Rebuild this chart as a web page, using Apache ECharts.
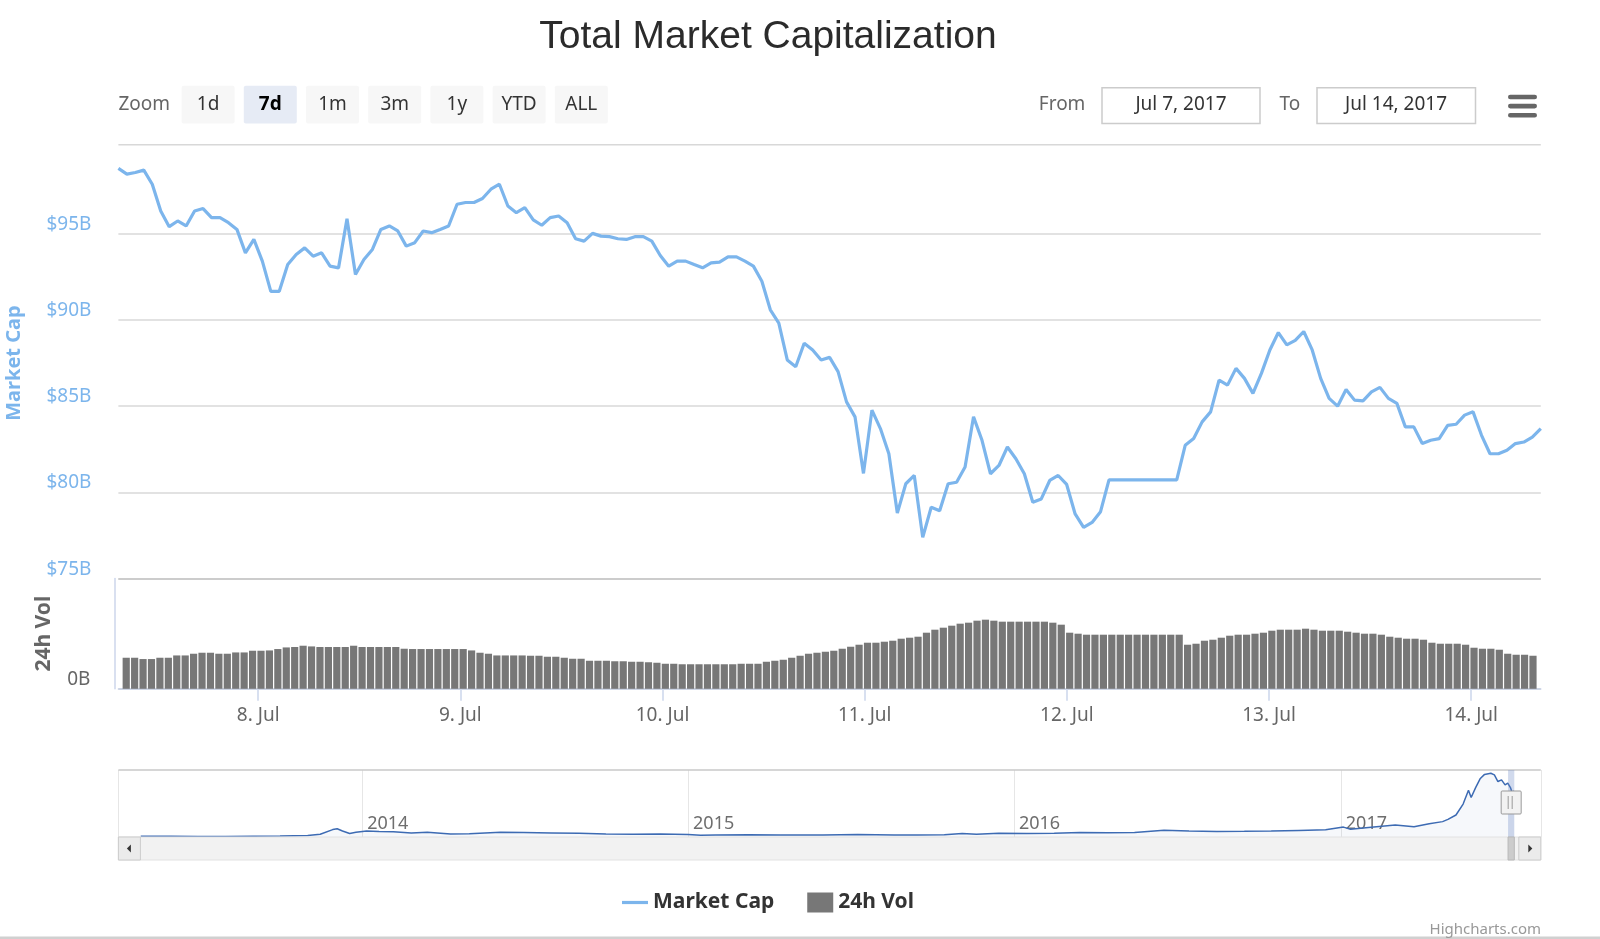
<!DOCTYPE html>
<html><head><meta charset="utf-8">
<script src="https://cdn.jsdelivr.net/npm/echarts@6/dist/echarts.min.js"></script>
<style>html,body{margin:0;padding:0;background:#fff}#chart{width:1600px;height:939px}</style>
</head><body><div id="chart"></div>
<script>
// ---- data ----
const START = new Date(2017, 6, 7, 7, 50).getTime();
const END = new Date(2017, 6, 14, 7, 50).getTime();
const HOUR = 3600000;
const DAY = 86400000;

// Market cap ($B), hourly from Jul 7 07:50
const marketCap = [
  98.79, 98.46, 98.55, 98.69, 97.87, 96.32, 95.41, 95.74, 95.45, 96.32,
  96.46, 95.93, 95.93, 95.64, 95.25, 93.89, 94.67, 93.41, 91.66, 91.66,
  93.21, 93.80, 94.18, 93.70, 93.89, 93.12, 93.02, 95.87, 92.63, 93.50,
  94.09, 95.25, 95.45, 95.16, 94.28, 94.48, 95.16, 95.06, 95.25, 95.45,
  96.71, 96.81, 96.81, 97.04, 97.58, 97.87, 96.61, 96.22, 96.51, 95.80,
  95.49, 95.93, 96.03, 95.64, 94.71, 94.57, 95.02, 94.86, 94.83, 94.71,
  94.67, 94.83, 94.83, 94.57, 93.74, 93.12, 93.41, 93.41, 93.21, 93.02,
  93.31, 93.35, 93.66, 93.66, 93.41, 93.12, 92.24, 90.59, 89.82, 87.68,
  87.29, 88.65, 88.26, 87.68, 87.83, 87.00, 85.25, 84.38, 81.10, 84.77,
  83.70, 82.24, 78.80, 80.50, 80.98, 77.39, 79.14, 78.94, 80.50, 80.59,
  81.47, 84.38, 83.02, 81.08, 81.56, 82.63, 81.95, 81.08, 79.43, 79.62,
  80.69, 80.98, 80.46, 78.75, 77.97, 78.26, 78.88, 80.73, 80.73, 80.73,
  80.73, 80.73, 80.73, 80.73, 80.73, 80.73, 82.73, 83.12, 84.09, 84.67,
  86.51, 86.22, 87.19, 86.61, 85.74, 86.90, 88.26, 89.27, 88.55, 88.81,
  89.33, 88.26, 86.61, 85.45, 85.00, 85.97, 85.35, 85.31, 85.83, 86.09,
  85.45, 85.16, 83.80, 83.80, 82.83, 83.02, 83.12, 83.89, 83.95, 84.48,
  84.67, 83.31, 82.24, 82.24, 82.44, 82.83, 82.92, 83.21, 83.70
];

// 24h volume ($B), hourly columns
const volume24h = [
  3.1, 3.1, 2.97, 2.97, 3.1, 3.1, 3.33, 3.33, 3.5, 3.6,
  3.6, 3.5, 3.5, 3.63, 3.63, 3.8, 3.8, 3.83, 3.97, 4.13,
  4.17, 4.3, 4.23, 4.17, 4.17, 4.17, 4.17, 4.3, 4.17, 4.17,
  4.17, 4.17, 4.17, 4.0, 3.97, 3.97, 3.97, 3.97, 3.97, 3.97,
  3.97, 3.83, 3.6, 3.5, 3.33, 3.33, 3.33, 3.33, 3.3, 3.3,
  3.2, 3.2, 3.1, 3.0, 3.0, 2.8, 2.8, 2.8, 2.75, 2.75,
  2.7, 2.7, 2.65, 2.6, 2.5, 2.5, 2.45, 2.45, 2.45, 2.45,
  2.45, 2.45, 2.45, 2.5, 2.5, 2.5, 2.7, 2.8, 2.9, 3.1,
  3.3, 3.5, 3.6, 3.7, 3.8, 4.0, 4.2, 4.4, 4.6, 4.6,
  4.7, 4.8, 5.0, 5.1, 5.2, 5.6, 5.9, 6.1, 6.3, 6.5,
  6.6, 6.8, 6.9, 6.8, 6.7, 6.7, 6.7, 6.7, 6.7, 6.7,
  6.6, 6.4, 5.6, 5.5, 5.4, 5.4, 5.4, 5.4, 5.4, 5.4,
  5.4, 5.4, 5.4, 5.4, 5.4, 5.4, 4.4, 4.5, 4.8, 4.9,
  5.1, 5.3, 5.4, 5.4, 5.5, 5.6, 5.8, 5.9, 5.9, 5.9,
  6.0, 5.9, 5.8, 5.8, 5.8, 5.7, 5.6, 5.5, 5.5, 5.4,
  5.2, 5.1, 5.0, 5.0, 4.9, 4.6, 4.5, 4.5, 4.5, 4.4,
  4.1, 4.0, 4.0, 3.9, 3.5, 3.4, 3.4, 3.3
];

// Navigator (full history) market cap, $B
const navDates = [
  '2013-04-28','2013-06-01','2013-07-01','2013-08-01','2013-09-01','2013-10-01','2013-11-01','2013-11-15',
  '2013-11-29','2013-12-04','2013-12-10','2013-12-18','2013-12-25','2014-01-06','2014-01-20','2014-02-05',
  '2014-02-25','2014-03-15','2014-04-10','2014-05-01','2014-06-05','2014-07-01','2014-08-01','2014-09-01',
  '2014-10-01','2014-11-01','2014-12-01','2015-01-01','2015-01-15','2015-02-01','2015-03-10','2015-04-15',
  '2015-06-01','2015-07-10','2015-08-20','2015-09-15','2015-10-15','2015-11-04','2015-11-20','2015-12-15',
  '2016-01-15','2016-02-15','2016-03-15','2016-04-15','2016-05-15','2016-06-17','2016-07-15','2016-08-15',
  '2016-09-15','2016-10-15','2016-11-15','2016-12-15','2017-01-04','2017-01-12','2017-02-01','2017-03-03',
  '2017-03-24','2017-04-10','2017-04-25','2017-05-01','2017-05-10','2017-05-18','2017-05-24','2017-05-27',
  '2017-06-01','2017-06-06','2017-06-11','2017-06-13','2017-06-18','2017-06-22','2017-06-26','2017-06-30',
  '2017-07-04','2017-07-07','2017-07-10','2017-07-12','2017-07-14'
];
const navValues = [
  1.5, 1.3, 1.0, 1.1, 1.5, 1.6, 2.6, 5.0,
  13.5, 15.0, 11.0, 6.5, 8.5, 11.0, 10.0, 9.5,
  7.5, 8.5, 5.5, 6.0, 8.5, 8.0, 7.5, 6.8,
  5.5, 5.0, 5.3, 4.5, 3.0, 3.5, 4.1, 3.5,
  3.6, 4.5, 3.6, 3.7, 4.0, 6.2, 5.0, 7.0,
  6.5, 6.8, 8.2, 7.8, 8.3, 12.5, 11.0, 9.8,
  10.3, 11.0, 12.0, 13.0, 18.0, 14.0, 17.5, 22.0,
  18.5, 24.0, 28.0, 32.0, 40.0, 60.0, 85.0, 72.0,
  90.0, 106.0, 114.0, 111.0, 116.0, 113.0, 101.0, 104.0,
  95.0, 98.0, 90.0, 80.0, 84.0
];
const rangeButtons = ['1d', '7d', '1m', '3m', '1y', 'YTD', 'ALL'];
const selectedButton = '7d';
const fromText = 'Jul 7, 2017';
const toText = 'Jul 14, 2017';

// ---- build ----
function parseLocal(s) { const p = s.split('-').map(Number); return new Date(p[0], p[1] - 1, p[2]).getTime(); }
const NAV_MIN = new Date(2013, 3, 3).getTime();
const NAV_MAX = new Date(2017, 7, 13).getTime();
const FONT = '"Noto Sans", "DejaVu Sans", sans-serif';

const capData = marketCap.map((v, i) => [START + i * HOUR, v]);
const volData = volume24h.map((v, i) => [START + (i + 0.5) * HOUR, v]);
const navData = navDates.map((d, i) => [parseLocal(d), navValues[i]]);

function isMidnight(v) { const d = new Date(v); return d.getHours() === 0 && d.getMinutes() === 0; }
function isNewYear(v) { const d = new Date(v); return d.getMonth() === 0 && d.getDate() === 1 && d.getHours() === 0; }

const GL = 118.4, GR = 59.2;
const chart = echarts.init(document.getElementById('chart'), null, { renderer: 'canvas' });

const option = {
  animation: false,
  backgroundColor: '#fff',
  title: {
    text: 'Total Market Capitalization', left: 763, top: 13, textAlign: 'center',
    textStyle: { fontSize: 39, fontWeight: 'normal', color: '#2b2b2b', fontFamily: '"Liberation Sans", Arial, sans-serif' }
  },
  legend: {
    data: [
      { name: 'Market Cap', icon: 'path://M0,0 L26,0 L26,3.2 L0,3.2 Z' },
      { name: '24h Vol', icon: 'rect' }
    ],
    left: 617, top: 887, itemWidth: 26, itemHeight: 20, itemGap: 33, symbolKeepAspect: true,
    textStyle: { fontSize: 21, fontWeight: 'bold', color: '#333', fontFamily: FONT }
  },
  grid: [
    { left: GL, right: GR, top: 147.5, height: 431.1, outerBoundsMode: 'none', containLabel: false },
    { left: GL, right: GR, top: 578.6, height: 110.2, outerBoundsMode: 'none', containLabel: false },
    { left: GL, right: GR, top: 770, height: 67, outerBoundsMode: 'none', containLabel: false }
  ],
  xAxis: [
    { type: 'time', gridIndex: 0, min: START, max: END, show: false },
    {
      type: 'time', gridIndex: 1, min: START, max: END, minInterval: DAY, maxInterval: DAY,
      axisLine: { show: true, lineStyle: { color: '#ccd6eb', width: 1.5 } },
      axisTick: { show: true, length: 12, lineStyle: { color: '#ccd6eb', width: 1.5 } },
      axisLabel: {
        color: '#666', fontSize: 19, fontFamily: FONT, margin: 17, hideOverlap: false,
        showMinLabel: false, showMaxLabel: false,
        formatter: v => (isMidnight(v) ? new Date(v).getDate() + '. Jul' : '')
      },
      splitLine: { show: false }
    },
    {
      type: 'time', gridIndex: 2, min: NAV_MIN, max: NAV_MAX, minInterval: 365 * DAY,
      axisLine: { show: false },
      axisTick: { show: false },
      axisLabel: {
        inside: true, align: 'left', margin: 4, padding: [0, 0, 0, 5],
        color: '#6e6e6e', fontSize: 18, fontFamily: FONT, showMinLabel: false, showMaxLabel: false,
        formatter: v => (isNewYear(v) ? String(new Date(v).getFullYear()) : '')
      },
      splitLine: { show: true, lineStyle: { color: '#e6e6e6', width: 1 } }
    }
  ],
  yAxis: [
    {
      type: 'value', gridIndex: 0, min: 75, max: 100, interval: 5,
      name: 'Market Cap', nameLocation: 'middle', nameRotate: 90, nameGap: 94,
      nameTextStyle: { color: '#7cb5ec', fontSize: 20, fontWeight: 'bold', fontFamily: FONT },
      axisLine: { show: false }, axisTick: { show: false },
      axisLabel: {
        formatter: '${value}B', color: '#7cb5ec', fontSize: 19, fontFamily: FONT,
        verticalAlign: 'bottom', lineHeight: 19, padding: [0, 0, 0, 0], margin: 27, showMaxLabel: false
      },
      splitLine: { showMaxLine: false, lineStyle: { color: '#d8d8d8', width: 1.5 } }
    },
    {
      type: 'value', gridIndex: 1, min: 0, max: 11, interval: 11, offset: 4,
      name: '24h Vol', nameLocation: 'middle', nameRotate: 90, nameGap: 60,
      nameTextStyle: { color: '#666', fontSize: 21, fontWeight: 'bold', fontFamily: FONT },
      axisLine: { show: true, lineStyle: { color: '#ccd6eb', width: 1.5 } }, axisTick: { show: false },
      axisLabel: {
        formatter: v => (v === 0 ? '0B' : ''), color: '#666', fontSize: 19, fontFamily: FONT,
        verticalAlign: 'bottom', lineHeight: 19, padding: [0, 0, 0, 0], margin: 24
      },
      splitLine: { show: true, lineStyle: { color: '#cccccc', width: 2 } }
    },
    { type: 'value', gridIndex: 2, min: 0, max: 122, show: false }
  ],
  series: [
    {
      name: 'Market Cap', type: 'line', xAxisIndex: 0, yAxisIndex: 0, data: capData,
      symbol: 'none', lineStyle: { color: '#7cb5ec', width: 3.2 }, itemStyle: { color: '#7cb5ec' }, z: 3
    },
    {
      name: '24h Vol', type: 'bar', xAxisIndex: 1, yAxisIndex: 1, data: volData,
      barWidth: 7.2, itemStyle: { color: '#777777' }
    },
    {
      name: 'navigator', type: 'line', xAxisIndex: 2, yAxisIndex: 2, data: navData,
      symbol: 'none', lineStyle: { color: '#3d6bb3', width: 1.5 },
      areaStyle: { color: 'rgba(51,92,173,0.06)' }, silent: true
    }
  ]
};
chart.setOption(option);

// ---- decorations (range selector, navigator chrome) ----
function txt(x, y, s, opts) {
  opts = opts || {};
  return {
    type: 'text', x: x, y: y, z: 20,
    style: {
      text: s, fill: opts.fill || '#333',
      font: (opts.weight || 'normal') + ' ' + (opts.size || 19) + 'px ' + FONT,
      align: opts.align || 'left', verticalAlign: 'middle'
    }
  };
}
const els = [];
const PW = 1600 - GL - GR;
// top border of the price pane
els.push({ type: 'rect', z: 5, shape: { x: GL, y: 143.9, width: PW, height: 1.5 }, style: { fill: '#d8d8d8' } });
els.push(txt(GL, 104.6, 'Zoom', { fill: '#666' }));
rangeButtons.forEach((b, i) => {
  const x = 181.6 + i * 62.2, sel = b === selectedButton;
  els.push({ type: 'rect', z: 19, shape: { x: x, y: 85.7, width: 53, height: 37.8, r: 2 },
    style: { fill: sel ? '#e6ebf5' : '#f7f7f7' } });
  els.push(txt(x + 26.5, 104.6, b, { align: 'center', fill: sel ? '#000' : '#333', weight: sel ? 'bold' : 'normal' }));
});
els.push(txt(1038.8, 104.6, 'From', { fill: '#666' }));
els.push({ type: 'rect', z: 19, shape: { x: 1102, y: 87.8, width: 158, height: 35.7 }, style: { fill: '#fff', stroke: '#cccccc', lineWidth: 1.5 } });
els.push(txt(1181, 104.6, fromText, { align: 'center' }));
els.push(txt(1279.6, 104.6, 'To', { fill: '#666' }));
els.push({ type: 'rect', z: 19, shape: { x: 1317, y: 87.8, width: 158.5, height: 35.7 }, style: { fill: '#fff', stroke: '#cccccc', lineWidth: 1.5 } });
els.push(txt(1396, 104.6, toText, { align: 'center' }));
[97, 106.1, 115.3].forEach(y => {
  els.push({ type: 'rect', z: 19, shape: { x: 1508, y: y - 2.3, width: 29, height: 4.6, r: 2.3 }, style: { fill: '#666' } });
});
els.push({ type: 'rect', z: 5, shape: { x: GL, y: 769.3, width: PW, height: 1.5 }, style: { fill: '#c8c8c8' } });
const SB_Y = 837, SB_H = 23;
els.push({ type: 'rect', z: 5, shape: { x: GL, y: SB_Y, width: PW, height: SB_H }, style: { fill: '#f2f2f2', stroke: '#e2e2e2', lineWidth: 1 } });
els.push({ type: 'rect', z: 6, shape: { x: GL, y: SB_Y, width: 22, height: SB_H }, style: { fill: '#ebebeb', stroke: '#cccccc', lineWidth: 1 } });
els.push({ type: 'polygon', z: 7, shape: { points: [[GL + 12.5, SB_Y + 7.5], [GL + 12.5, SB_Y + 15.5], [GL + 8.5, SB_Y + 11.5]] }, style: { fill: '#333' } });
const RB = 1600 - GR - 22;
els.push({ type: 'rect', z: 6, shape: { x: RB, y: SB_Y, width: 22, height: SB_H }, style: { fill: '#ebebeb', stroke: '#cccccc', lineWidth: 1 } });
els.push({ type: 'polygon', z: 7, shape: { points: [[RB + 9.5, SB_Y + 7.5], [RB + 9.5, SB_Y + 15.5], [RB + 13.5, SB_Y + 11.5]] }, style: { fill: '#333' } });
let mx1 = chart.convertToPixel({ xAxisIndex: 2 }, START);
let mx2 = chart.convertToPixel({ xAxisIndex: 2 }, END);
if (!isFinite(mx1) || !isFinite(mx2)) { mx1 = 1508; mx2 = 1515; }
const mw = Math.max(mx2 - mx1, 6);
els.push({ type: 'rect', z: 8, shape: { x: mx1, y: 770, width: mw, height: 67 }, style: { fill: 'rgba(102,133,194,0.3)' } });
els.push({ type: 'rect', z: 8, shape: { x: mx1, y: SB_Y, width: mw, height: SB_H }, style: { fill: '#cccccc', stroke: '#b8b8b8', lineWidth: 1 } });
const hc = mx1 + mw / 2;
els.push({ type: 'rect', z: 9, shape: { x: hc - 10, y: 791, width: 20, height: 23, r: 1 }, style: { fill: '#f2f2f2', stroke: '#999999', lineWidth: 1 } });
[-3, 1].forEach(d => {
  els.push({ type: 'line', z: 10, shape: { x1: hc + d, y1: 796, x2: hc + d, y2: 809 }, style: { stroke: '#999999', lineWidth: 1 } });
});
els.push(txt(1541, 930, 'Highcharts.com', { align: 'right', size: 15, fill: '#999' }));
els.push({ type: 'rect', z: 5, shape: { x: 0, y: 936.5, width: 1600, height: 2.5 }, style: { fill: '#d0d0d0' } });

chart.setOption({ graphic: { elements: els } });
</script>
</body></html>
